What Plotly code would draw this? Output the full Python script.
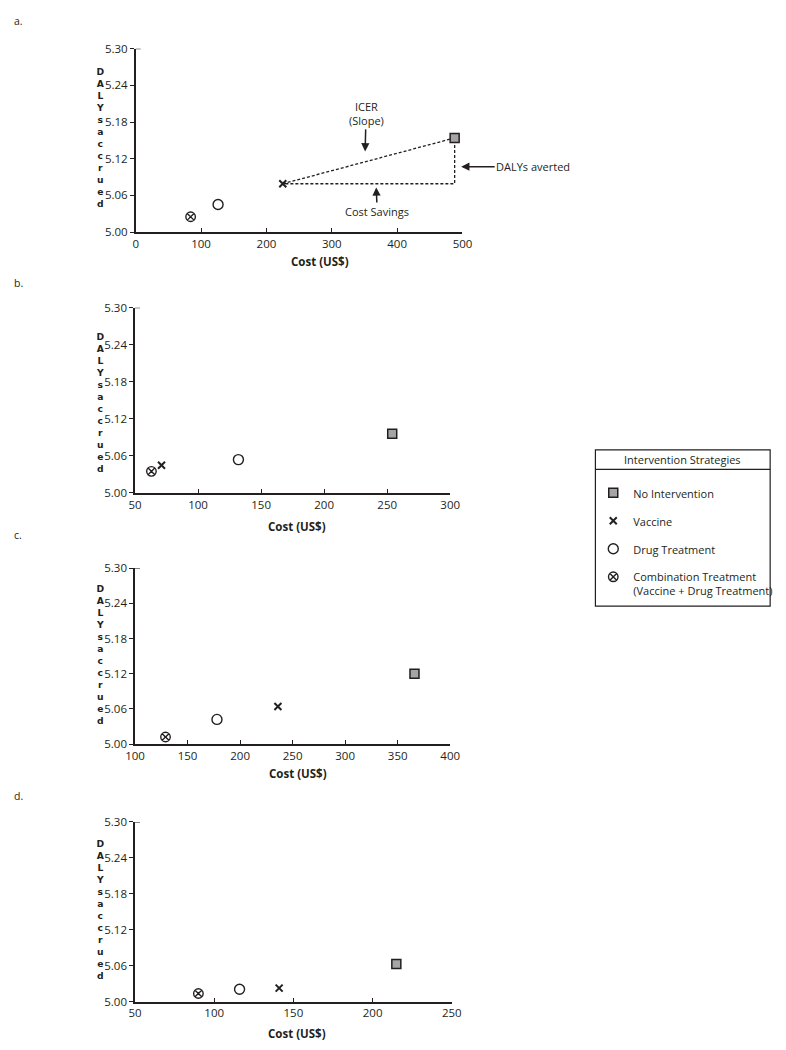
import plotly.graph_objects as go

# ---------------- data ----------------
strategies = ["No Intervention", "Vaccine", "Drug Treatment",
              "Combination Treatment<br>(Vaccine + Drug Treatment)"]

cost_a = [488, 225, 126, 84]
daly_a = [5.154, 5.079, 5.045, 5.025]

cost_b = [254, 71, 132, 63]
daly_b = [5.096, 5.045, 5.054, 5.035]

cost_c = [366, 236, 178, 129]
daly_c = [5.120, 5.064, 5.042, 5.012]

cost_d = [215, 141, 116, 90]
daly_d = [5.063, 5.023, 5.021, 5.014]

x_ranges = [[0, 500], [50, 300], [100, 400], [50, 250]]
x_dticks = [100, 50, 50, 50]
y_range = [5.00, 5.30]
y_dtick = 0.06
panel_letters = ["a.", "b.", "c.", "d."]
y_label = "DALYsaccrued"

# ---------------- styling ----------------
W, H = 786, 1050
INK = "#231f20"
FONT = "Open Sans"


def px(x):
    return x / W


def py(y):
    return 1 - y / H


# pixel boxes of each plot area: (left, right, top, bottom)
boxes = [
    (129.0, 464.3, 41.3, 227.3),
    (128.3, 451.7, 304.0, 492.0),
    (128.3, 451.7, 568.3, 746.7),
    (128.3, 453.3, 825.7, 1008.3),
]
xtitle_pos = [(318, 256.7), (295, 526), (296, 777), (294, 1040)]
ylabel_y = [131.7, 400.5, 656, 915]
letter_y = [13, 279, 535, 799]

markers = [
    dict(symbol="square", size=9, color="#a5a5a5", line=dict(width=1.5, color=INK)),
    dict(symbol="x-thin-open", size=7, color=INK, line=dict(width=2, color=INK)),
    dict(symbol="circle-open", size=10, color=INK, line=dict(width=1.4, color=INK)),
    dict(symbol="circle-x-open", size=9.5, color=INK, line=dict(width=1.4, color=INK)),
]

data = [(cost_a, daly_a), (cost_b, daly_b), (cost_c, daly_c), (cost_d, daly_d)]

fig = go.Figure()

# dashed ICER triangle in panel a (vaccine -> no intervention)
vx, vy = cost_a[1], daly_a[1]
sx, sy = cost_a[0], daly_a[0]
fig.add_trace(go.Scatter(
    x=[vx, sx, sx, vx], y=[vy, sy, vy, vy], mode="lines",
    line=dict(color=INK, width=1.3, dash="3px,2px"),
    showlegend=False, hoverinfo="skip", xaxis="x", yaxis="y", cliponaxis=False,
))

for p, (cx, cy) in enumerate(data):
    xa = "x" if p == 0 else f"x{p + 1}"
    ya = "y" if p == 0 else f"y{p + 1}"
    for i, name in enumerate(strategies):
        fig.add_trace(go.Scatter(
            x=[cx[i]], y=[cy[i]], mode="markers", name=name,
            marker=markers[i], xaxis=xa, yaxis=ya, cliponaxis=False,
            showlegend=(p == 0), legendgroup=f"g{i}",
        ))

layout = dict(
    width=W, height=H, margin=dict(l=0, r=0, t=0, b=0),
    paper_bgcolor="white", plot_bgcolor="white",
    font=dict(family=FONT, size=11, color=INK),
    legend=dict(
        x=px(598.5), y=py(478), xanchor="left", yanchor="top",
        bgcolor="rgba(0,0,0,0)", borderwidth=0, tracegroupgap=9,
        font=dict(family=FONT, size=11, color=INK), valign="top",
        itemsizing="trace",
    ),
)

annotations = []
shapes = []
for p in range(4):
    l, r, t, b = boxes[p]
    sfx = "" if p == 0 else str(p + 1)
    layout[f"xaxis{sfx}"] = dict(
        domain=[px(l), px(r)], range=x_ranges[p], anchor=f"y{sfx}",
        dtick=x_dticks[p], tick0=0, showgrid=False, zeroline=False,
        showline=True, linecolor=INK, linewidth=1.5,
        ticks="inside", ticklen=4, tickwidth=1.3, tickcolor=INK,
        tickfont=dict(family=FONT, size=11.5, color=INK), fixedrange=True,
    )
    layout[f"yaxis{sfx}"] = dict(
        domain=[py(b), py(t)], range=y_range, anchor=f"x{sfx}",
        dtick=y_dtick, tick0=5.0, tickformat=".2f", showgrid=False,
        zeroline=False, showline=True, linecolor=INK, linewidth=1.5,
        ticks="outside", ticklen=4, tickwidth=1.3, tickcolor=INK,
        tickfont=dict(family=FONT, size=11.5, color=INK), fixedrange=True,
    )
    # top tick (5.30) pointing right, as in the reference
    shapes.append(dict(
        type="line", xref=f"x{sfx} domain", yref=f"y{sfx}",
        xsizemode="pixel", xanchor=0, x0=0, x1=5, y0=y_range[1], y1=y_range[1],
        line=dict(color=INK, width=1.3),
    ))
    # x axis title
    tx, ty = xtitle_pos[p]
    annotations.append(dict(
        text="<b>Cost (US$)</b>", x=px(tx), y=py(ty), xref="paper", yref="paper",
        showarrow=False, xanchor="center", yanchor="middle",
        font=dict(family=FONT, size=11.5, color=INK),
    ))
    # stacked y label
    annotations.append(dict(
        text="<br>".join(f"<b>{c}</b>" for c in y_label),
        x=px(93), y=py(ylabel_y[p]), xref="paper", yref="paper",
        showarrow=False, xanchor="center", yanchor="middle", align="center",
        font=dict(family="DejaVu Sans", size=9.2, color=INK),
    ))
    # panel letter
    annotations.append(dict(
        text=panel_letters[p], x=px(2), y=py(letter_y[p]), xref="paper",
        yref="paper", showarrow=False, xanchor="left", yanchor="middle",
        font=dict(family=FONT, size=10.5, color=INK),
    ))

# explanatory arrows in panel a
arrow_common = dict(xref="x", yref="y", showarrow=True, arrowhead=2,
                    arrowsize=1.1, arrowwidth=1.5, arrowcolor=INK,
                    font=dict(family=FONT, size=11, color=INK))
annotations.append(dict(text="ICER<br>(Slope)", x=351, y=5.132, ax=1, ay=-38,
                        **arrow_common))
annotations.append(dict(text="Cost Savings", x=368, y=5.073, ax=1, ay=24,
                        **arrow_common))
annotations.append(dict(text="DALYs averted", x=498, y=5.107, ax=72, ay=0,
                        **arrow_common))

# legend frame & header
shapes.append(dict(type="rect", xref="paper", yref="paper",
                   x0=px(600.7), x1=px(780), y0=py(606.7), y1=py(448.3),
                   line=dict(color=INK, width=1.2)))
shapes.append(dict(type="line", xref="paper", yref="paper",
                   x0=px(600.7), x1=px(780), y0=py(468), y1=py(468),
                   line=dict(color=INK, width=1.2)))
annotations.append(dict(text="Intervention Strategies", x=px(690), y=py(458),
                        xref="paper", yref="paper", showarrow=False,
                        xanchor="center", yanchor="middle",
                        font=dict(family=FONT, size=11, color=INK)))

layout["annotations"] = annotations
layout["shapes"] = shapes
fig.update_layout(**layout)

fig.write_html("out.html", config={"displayModeBar": False},
               post_script="document.body.style.margin='0';")
